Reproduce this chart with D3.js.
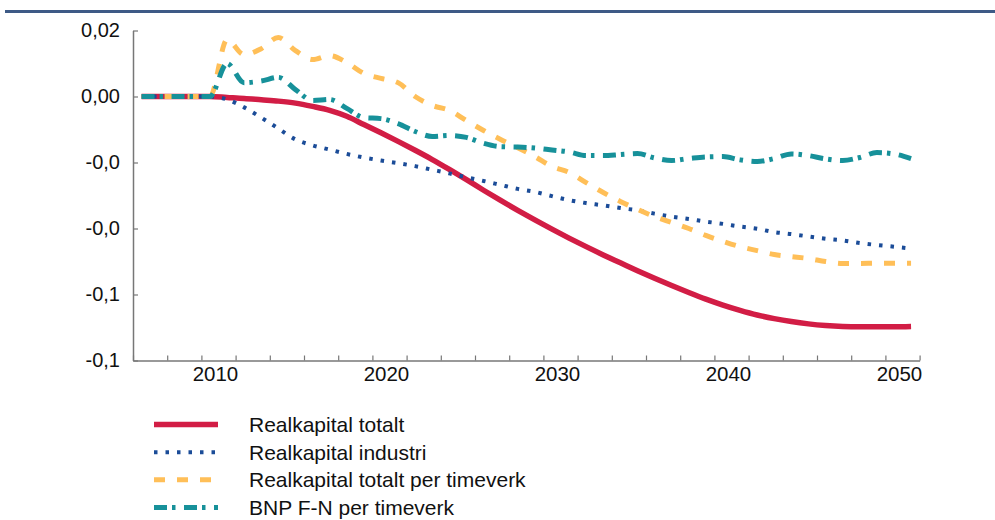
<!DOCTYPE html>
<html>
<head>
<meta charset="utf-8">
<script src="https://cdn.jsdelivr.net/npm/d3@7"></script>
<style>
  html, body { margin: 0; padding: 0; background: #ffffff; }
  svg { display: block; font-family: "Liberation Sans", Arial, sans-serif; }
</style>
</head>
<body>
<svg id="chart" width="995" height="520"></svg>
<script>
// ---- Data ----
const years = [2006,2007,2008,2009,2010,2011,2012,2013,2014,2015,2016,2017,2018,2019,2020,
  2021,2022,2023,2024,2025,2026,2027,2028,2029,2030,2031,2032,2033,2034,2035,2036,2037,
  2038,2039,2040,2041,2042,2043,2044,2045,2046,2047,2048,2049,2050,2051];

const realkapitalTotalt = [0,0,0,0,0,
  -0.0003,-0.0006,-0.001,-0.0014,-0.002,-0.003,-0.0042,-0.006,-0.0085,-0.011,
  -0.0136,-0.0163,-0.0191,-0.0221,-0.0252,-0.0284,-0.0315,-0.0345,-0.0374,-0.0402,
  -0.0429,-0.0455,-0.048,-0.0504,-0.0528,-0.0551,-0.0573,-0.0594,-0.0614,-0.0632,
  -0.0648,-0.0662,-0.0673,-0.0682,-0.0689,-0.0694,-0.0697,-0.0698,-0.0698,-0.0698,-0.0697];

const realkapitalIndustri = [0,0,0,0,0,
  -0.0009,-0.0033,-0.0064,-0.0097,-0.013,-0.0148,-0.0161,-0.0174,-0.0185,-0.0194,
  -0.0202,-0.0211,-0.0222,-0.0233,-0.0245,-0.0256,-0.0268,-0.028,-0.0289,-0.0302,
  -0.0314,-0.0323,-0.033,-0.0338,-0.0345,-0.0355,-0.0364,-0.0371,-0.0379,-0.0386,
  -0.0394,-0.0401,-0.0411,-0.0417,-0.0424,-0.0431,-0.0436,-0.0444,-0.045,-0.0455,-0.0461];

const realkapitalPerTimeverk = [0,0,0,0,0,
  0.0172,0.0127,0.0145,0.0179,0.0139,0.0112,0.0124,0.0103,0.007,0.0055,
  0.0042,0.0,-0.0027,-0.0042,-0.0073,-0.0103,-0.013,-0.0155,-0.0182,-0.0212,
  -0.023,-0.0261,-0.0291,-0.0318,-0.0342,-0.0364,-0.0382,-0.04,-0.0421,-0.0439,
  -0.0455,-0.0467,-0.0479,-0.0485,-0.0491,-0.05,-0.0506,-0.0506,-0.0505,-0.0505,-0.0505];

const bnpPerTimeverk = [0,0,0,0,0,
  0.01,0.0042,0.0047,0.0058,0.0021,-0.0012,-0.0009,-0.0036,-0.0064,-0.0067,
  -0.0082,-0.0106,-0.0121,-0.0118,-0.0124,-0.0142,-0.0152,-0.0153,-0.0156,-0.0162,
  -0.0168,-0.0179,-0.0179,-0.0176,-0.0173,-0.0186,-0.0194,-0.0188,-0.0183,-0.0182,
  -0.0192,-0.0197,-0.0188,-0.0174,-0.0179,-0.0189,-0.0194,-0.0185,-0.017,-0.0174,-0.0188];

const seriesNames = ["Realkapital totalt", "Realkapital industri",
  "Realkapital totalt per timeverk", "BNP F-N per timeverk"];

const yTickValues = [0.02, 0.00, -0.02, -0.04, -0.06, -0.08];
const yTickLabels = ["0,02", "0,00", "-0,0", "-0,0", "-0,1", "-0,1"];
const xLabelYears = [2010, 2020, 2030, 2040, 2050];
const xMinorTicks = [2005.5,2007.5,2009.5,2011.5,2013.5,2015.5,2017.5,2019.5,2021.5,2023.5,
  2025.5,2027.5,2029.5,2031.5,2033.5,2035.5,2037.5,2039.5,2041.5,2043.5,2045.5,2047.5,
  2049.5,2051.5];

// ---- Styles ----
const styles = [
  { color: "#d21d45", width: 5.5, dash: null },
  { color: "#1b4c98", width: 4, dash: "3.5,8" },
  { color: "#ffbf58", width: 5, dash: "11,12" },
  { color: "#17919a", width: 5, dash: "13,5,3.5,8.5" }
];
const seriesData = [realkapitalTotalt, realkapitalIndustri, realkapitalPerTimeverk, bnpPerTimeverk];

const svg = d3.select("#chart");
const axisColor = "#777777";

// top rule
svg.append("line")
  .attr("x1", 5).attr("x2", 995).attr("y1", 11.5).attr("y2", 11.5)
  .attr("stroke", "#3e5a86").attr("stroke-width", 3);

const x = d3.scaleLinear().domain([2005.5, 2051.5]).range([133, 919.6]);
const y = d3.scaleLinear().domain([-0.08, 0.02]).range([360.5, 30.5]);

// Lines
const line = d3.line().x((d, i) => x(years[i])).y(d => y(d)).curve(d3.curveMonotoneX);
[0, 1, 2, 3].forEach(k => {
  const p = svg.append("path")
    .datum(seriesData[k])
    .attr("d", line)
    .attr("fill", "none")
    .attr("stroke", styles[k].color)
    .attr("stroke-width", styles[k].width)
    .attr("stroke-linejoin", "round");
  if (styles[k].dash) p.attr("stroke-dasharray", styles[k].dash);
});

// Y axis
const yAxis = d3.axisLeft(y)
  .tickValues(yTickValues)
  .tickFormat((d, i) => yTickLabels[i])
  .tickSizeInner(-5).tickSizeOuter(0).tickPadding(13);
const gy = svg.append("g").attr("transform", "translate(133,0)").call(yAxis);
gy.select(".domain").attr("stroke", axisColor).attr("stroke-width", 1.5);
gy.selectAll(".tick line").attr("stroke", axisColor).attr("stroke-width", 1.2);
gy.selectAll(".tick text").attr("fill", "#111").style("font-size", "20px")
  .attr("font-family", "Liberation Sans, Arial, sans-serif").attr("dy", "0.28em");

// X axis (ticks)
const xAxis = d3.axisBottom(x)
  .tickValues(xMinorTicks)
  .tickFormat("")
  .tickSizeInner(-5).tickSizeOuter(0);
const gx = svg.append("g").attr("transform", "translate(0,360.5)").call(xAxis);
gx.select(".domain").attr("stroke", axisColor).attr("stroke-width", 1.5);
gx.selectAll(".tick line").attr("stroke", axisColor).attr("stroke-width", 1.2);

// X axis labels
const xLabelAxis = d3.axisBottom(x)
  .tickValues(xLabelYears)
  .tickFormat(d => String(d))
  .tickSize(0).tickPadding(6);
const gxl = svg.append("g").attr("transform", "translate(5,360.5)").call(xLabelAxis);
gxl.select(".domain").remove();
gxl.selectAll(".tick text").attr("fill", "#111").style("font-size", "20.5px")
  .attr("font-family", "Liberation Sans, Arial, sans-serif");

// Legend
const legendRowY = d3.scalePoint().domain(seriesNames).range([424.5, 507.5]);
const lg = svg.append("g");
seriesNames.forEach((name, k) => {
  const yy = legendRowY(name);
  const l = lg.append("line")
    .attr("x1", 154).attr("x2", 218).attr("y1", yy).attr("y2", yy)
    .attr("stroke", styles[k].color).attr("stroke-width", styles[k].width);
  if (styles[k].dash) l.attr("stroke-dasharray", styles[k].dash);
  lg.append("text")
    .attr("x", 249).attr("y", yy).attr("dy", "0.35em")
    .attr("fill", "#111").style("font-size", "21px")
    .text(name);
});
</script>
</body>
</html>
